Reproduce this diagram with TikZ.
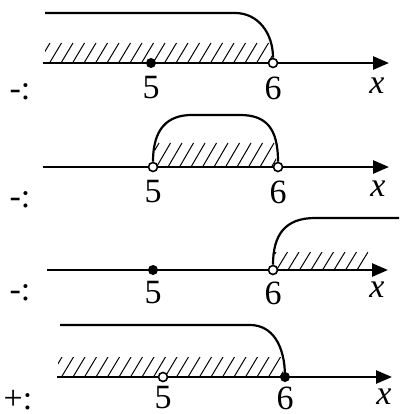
\documentclass[tikz,border=0pt]{standalone}
\usepackage{fontspec}
\setmainfont{Liberation Serif}
\usetikzlibrary{arrows.meta}
\begin{document}
\begin{tikzpicture}[x=1pt,y=-1pt,
  axisline/.style={line width=2.6pt,-{Triangle[length=16pt,width=13pt]}},
  curveline/.style={line width=2.2pt},
  hatchline/.style={line width=1pt},
  lbl/.style={inner sep=0pt,font=\fontsize{34}{36}\selectfont},
  opendot/.style={circle,draw,fill=white,line width=1.6pt,inner sep=0pt,minimum size=9pt},
  fulldot/.style={circle,fill=black,inner sep=0pt,minimum size=10pt}]
\useasboundingbox (0,0) rectangle (399,414);
% ---------- panel 1
\begin{scope}
\clip (45,43) rectangle (272,63);
\foreach \i in {0,...,22} {\draw[hatchline] (38+\i*11.5,63) -- ++(12,-20);}
\end{scope}
\coordinate (a1s) at (43,63);
\coordinate (a1e) at (389,63);
\draw[axisline] (a1s) -- (a1e);
\coordinate (c1s) at (45,13);
\node[fulldot] (p15) at (151,63) {};
\node[opendot] (p16) at (273,63) {};
\draw[curveline] (c1s) -- (235,13) .. controls (258,13) and (273,33) .. (p16.north);
\node[lbl] (l15) at (151,88) {5};
\node[lbl] (l16) at (273,88) {6};
\node[lbl] (lx1) at (377,86) {\itshape x};
\node[lbl] (s1) at (20,92) {-:};
% ---------- panel 2
\begin{scope}
\clip (155,143) rectangle (276,167);
\foreach \i in {0,...,12} {\draw[hatchline] (145+\i*11.5,167) -- ++(14,-24);}
\end{scope}
\coordinate (a2s) at (43,167);
\coordinate (a2e) at (389,167);
\draw[axisline] (a2s) -- (a2e);
\node[opendot] (p25) at (153,167) {};
\node[opendot] (p26) at (278,167) {};
\draw[curveline] (p25.north) .. controls (153,128) and (168,115) .. (192,115) -- (240,115) .. controls (266,115) and (278,128) .. (p26.north);
\node[lbl] (l25) at (153,192) {5};
\node[lbl] (l26) at (278,192) {6};
\node[lbl] (lx2) at (378,189) {\itshape x};
\node[lbl] (s2) at (20,200) {-:};
% ---------- panel 3
\begin{scope}
\clip (275,252) rectangle (368,270);
\foreach \i in {0,...,10} {\draw[hatchline] (265+\i*11.5,270) -- ++(11,-18);}
\end{scope}
\coordinate (a3s) at (47,270);
\coordinate (a3e) at (388,270);
\draw[axisline] (a3s) -- (a3e);
\node[fulldot] (p35) at (153,270) {};
\node[opendot] (p36) at (273,270) {};
\coordinate (c3e) at (399,218);
\draw[curveline] (p36.north) .. controls (273,235) and (285,218) .. (315,218) -- (c3e);
\node[lbl] (l35) at (153,293) {5};
\node[lbl] (l36) at (273,293) {6};
\node[lbl] (lx3) at (377,290) {\itshape x};
\node[lbl] (s3) at (20,293) {-:};
% ---------- panel 4
\begin{scope}
\clip (58,357) rectangle (283,377);
\foreach \i in {0,...,22} {\draw[hatchline] (50+\i*11.5,377) -- ++(12,-20);}
\end{scope}
\coordinate (a4s) at (57,377);
\coordinate (a4e) at (392,377);
\draw[axisline] (a4s) -- (a4e);
\node[opendot] (p45) at (163,377) {};
\node[fulldot] (p46) at (285,377) {};
\coordinate (c4s) at (60,325);
\draw[curveline] (c4s) -- (250,325) .. controls (272,325) and (285,345) .. (p46.center);
\node[lbl] (l45) at (163,398) {5};
\node[lbl] (l46) at (285,398) {6};
\node[lbl] (lx4) at (384,397) {\itshape x};
\node[lbl] (s4) at (18,400) {+:};
\end{tikzpicture}
\end{document}
